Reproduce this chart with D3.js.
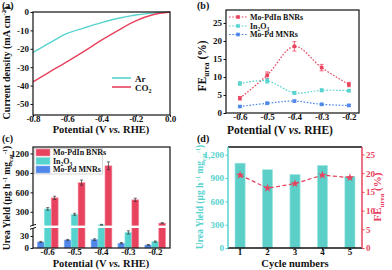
<!DOCTYPE html>
<html><head><meta charset="utf-8">
<script src="https://cdn.jsdelivr.net/npm/d3@7"></script>
<style>
body{margin:0;background:#fff}
svg{display:block}
text{font-family:"Liberation Serif","Times New Roman",serif;font-weight:bold}
</style>
</head><body>
<svg id="chart" width="392" height="270"></svg>
<script>
// ---------- data ----------
const aPotential = [-0.8,-0.7,-0.6,-0.5,-0.4,-0.3,-0.2,-0.1,0];
const aAr  = [-22,-16.6,-11.6,-8.6,-5.8,-3.4,-1.6,-0.6,0];
const aCO2 = [-38,-32.4,-27,-21.3,-15.3,-9.8,-4.8,-1.5,0];
const aXTicks = [-0.8,-0.6,-0.4,-0.2,0];
const aYTicks = [0,-10,-20,-30,-40,-50];

const bPotential = [-0.6,-0.5,-0.4,-0.3,-0.2];
const bPdIn = [4.1,10.5,18.5,12.6,7.9];
const bPdInErr = [0.5,0.9,1.3,0.9,0.6];
const bIn2O3 = [8.2,8.9,5.6,6.3,6.2];
const bIn2O3Err = [0.5,0.6,0.4,0.4,0.3];
const bPd = [1.8,2.7,3.3,2.4,2.1];
const bPdErr = [0.2,0.3,0.3,0.3,0.3];
const bYTicks = [0,5,10,15,20,25];

const cPotential = ['-0.6','-0.5','-0.4','-0.3','-0.2'];
const cPd = [15,20,21,12,7.5];
const cPdErr = [1.5,1.5,2,1.5,1.2];
const cIn2O3 = [345,262,100,39,16];
const cIn2O3Err = [20,15,6,4,1.5];
const cPdIn = [515,750,1010,485,125];
const cPdInErr = [25,40,60,25,8];
const cYTicks = [0,30,300,600,900,1200];

const dCycle = [1,2,3,4,5];
const dYield = [1092,1008,947,1063,921];
const dFE = [19.5,16.0,17.2,19.5,18.8];
const dYTicksL = [0,300,600,900,1200];
const dYTicksR = [0,5,10,15,20,25];

// ---------- style ----------
const RED = '#E8435E', CY = '#55D3CE', BL = '#4F88EA', INK = '#111';
const svg = d3.select('#chart');

function styleAxis(g, color, size){
  g.select('.domain').remove();
  g.attr('font-size', size || 9);
  g.selectAll('line').attr('stroke', color || INK).attr('stroke-width', 1);
  g.selectAll('text').attr('fill', color || INK);
}
function xAxisFix(g){ g.selectAll('text').attr('dy','0.5em'); }
function frame(x0,y0,x1,y1){
  svg.append('rect').attr('x',x0).attr('y',y0).attr('width',x1-x0).attr('height',y1-y0)
    .attr('fill','none').attr('stroke',INK).attr('stroke-width',1.2);
}
function label(txt,x,y){
  svg.append('text').attr('x',x).attr('y',y).attr('font-size',10).attr('fill',INK).text(txt);
}
function potentialTitle(cx, y, size){
  const t = svg.append('text').attr('x',cx).attr('y',y).attr('text-anchor','middle')
    .attr('font-size',size).attr('fill',INK);
  t.append('tspan').text('Potential (V ');
  t.append('tspan').attr('font-style','italic').text('vs.');
  t.append('tspan').text(' RHE)');
}
function feTitle(cx, cy, size, color){
  const t = svg.append('text').attr('transform',`translate(${cx},${cy}) rotate(-90)`)
    .attr('text-anchor','middle').attr('font-size',size).attr('fill',color);
  t.append('tspan').text('FE');
  t.append('tspan').attr('font-size',size*0.65).attr('dy',3).text('urea');
  t.append('tspan').attr('dy',-3).text(' (%)');
}
function yieldTitle(cx, cy, size, color){
  const t = svg.append('text').attr('transform',`translate(${cx},${cy}) rotate(-90)`)
    .attr('text-anchor','middle').attr('font-size',size).attr('fill',color);
  t.append('tspan').text('Urea Yield (μg h');
  t.append('tspan').attr('font-size',size*0.65).attr('dy',-3.5).text(' -1');
  t.append('tspan').attr('dy',3.5).text(' mg');
  t.append('tspan').attr('font-size',size*0.65).attr('dy',2.5).text('cat');
  t.append('tspan').attr('font-size',size*0.65).attr('dy',-6).text('-1');
  t.append('tspan').attr('dy',3.5).text(')');
}
const fmt1 = d => d === 0 ? '0.0' : d.toFixed(1);

// ================= panel (a) =================
{
  const L=33,R=170,T=12,B=115;
  const x = d3.scaleLinear().domain([-0.8,0]).range([L,R]);
  const y = d3.scaleLinear().domain([-56,0]).range([B,T]);
  const gx = svg.append('g').attr('transform',`translate(0,${B})`)
    .call(d3.axisBottom(x).tickValues(aXTicks).tickFormat(fmt1).tickSize(2).tickPadding(0));
  styleAxis(gx); xAxisFix(gx);
  const gy = svg.append('g').attr('transform',`translate(${L},0)`)
    .call(d3.axisLeft(y).tickValues(aYTicks).tickFormat(d=>String(d)).tickSize(2.5).tickPadding(1.5));
  styleAxis(gy);
  const line = d3.line().x((d,i)=>x(aPotential[i])).y(d=>y(d)).curve(d3.curveCatmullRom);
  svg.append('path').datum(aAr).attr('d',line).attr('fill','none').attr('stroke',CY).attr('stroke-width',1.4);
  svg.append('path').datum(aCO2).attr('d',line).attr('fill','none').attr('stroke',RED).attr('stroke-width',1.4);
  frame(L,T,R,B);
  // legend
  svg.append('line').attr('x1',112).attr('x2',131).attr('y1',78).attr('y2',78).attr('stroke',CY).attr('stroke-width',1.6);
  svg.append('text').attr('x',135).attr('y',81.5).attr('font-size',9).attr('fill',INK).text('Ar');
  svg.append('line').attr('x1',112).attr('x2',131).attr('y1',87).attr('y2',87).attr('stroke',RED).attr('stroke-width',1.6);
  const co = svg.append('text').attr('x',135).attr('y',90.5).attr('font-size',9).attr('fill',INK);
  co.append('tspan').text('CO');
  co.append('tspan').attr('font-size',6).attr('dy',2).text('2');
  potentialTitle(101,133,10.5);
  const yt = svg.append('text').attr('transform','translate(9.5,63) rotate(-90)').attr('text-anchor','middle')
    .attr('font-size',10).attr('fill',INK);
  yt.append('tspan').text('Current density (mA cm');
  yt.append('tspan').attr('font-size',6.5).attr('dy',-3.5).text('-2');
  yt.append('tspan').attr('dy',3.5).text(')');
  label('(a)',2,9);
}

// ================= panel (b) =================
{
  const L=226,R=359,T=10,B=113;
  const x = d3.scaleLinear().domain([-0.651,-0.163]).range([L,R]);
  const y = d3.scaleLinear().domain([0,28.6]).range([B,T]);
  const gx = svg.append('g').attr('transform',`translate(0,${B})`)
    .call(d3.axisBottom(x).tickValues(bPotential).tickFormat(fmt1).tickSize(2).tickPadding(0));
  styleAxis(gx); xAxisFix(gx);
  const gy = svg.append('g').attr('transform',`translate(${L},0)`)
    .call(d3.axisLeft(y).tickValues(bYTicks).tickFormat(d=>String(d)).tickSize(2.5).tickPadding(1.5));
  styleAxis(gy);
  const series = [
    {name:'Mo-PdIn BNRs', v:bPdIn, e:bPdInErr, c:RED},
    {name:'In2O3', v:bIn2O3, e:bIn2O3Err, c:CY},
    {name:'Mo-Pd MNRs', v:bPd, e:bPdErr, c:BL}
  ];
  const line = d3.line().x((d,i)=>x(bPotential[i])).y(d=>y(d)).curve(d3.curveCatmullRom);
  series.forEach(s=>{
    svg.append('path').datum(s.v).attr('d',line).attr('fill','none').attr('stroke',s.c)
      .attr('stroke-width',1.2).attr('stroke-dasharray','1.6,1.6');
    const g = svg.append('g');
    s.v.forEach((v,i)=>{
      const cx = x(bPotential[i]);
      g.append('line').attr('x1',cx).attr('x2',cx).attr('y1',y(v-s.e[i])).attr('y2',y(v+s.e[i])).attr('stroke',s.c).attr('stroke-width',0.8);
      [v-s.e[i],v+s.e[i]].forEach(w=>g.append('line').attr('x1',cx-2).attr('x2',cx+2).attr('y1',y(w)).attr('y2',y(w)).attr('stroke',s.c).attr('stroke-width',0.8));
      g.append('rect').attr('x',cx-1.8).attr('y',y(v)-1.8).attr('width',3.6).attr('height',3.6).attr('fill',s.c);
    });
  });
  frame(L,T,R,B);
  // legend
  const ly = [17,26,34.5];
  series.forEach((s,i)=>{
    svg.append('line').attr('x1',229).attr('x2',247).attr('y1',ly[i]).attr('y2',ly[i]).attr('stroke',s.c)
      .attr('stroke-width',1.2).attr('stroke-dasharray','1.6,1.6');
    svg.append('rect').attr('x',236.2).attr('y',ly[i]-1.8).attr('width',3.6).attr('height',3.6).attr('fill',s.c);
    const t = svg.append('text').attr('x',250).attr('y',ly[i]+2.8).attr('font-size',8).attr('fill',INK);
    if(s.name==='In2O3'){
      t.append('tspan').text('In');
      t.append('tspan').attr('font-size',5.5).attr('dy',2).text('2');
      t.append('tspan').attr('dy',-2).text('O');
      t.append('tspan').attr('font-size',5.5).attr('dy',2).text('3');
    } else t.text(s.name);
  });
  potentialTitle(280,133.5,11.5);
  feTitle(206,66,11.5,INK);
  label('(b)',197,9);
}

// ================= panel (c) =================
{
  const L=33,R=170,T=147,B=248;
  const x0 = d3.scaleBand().domain(cPotential).range([L,R]).paddingInner(0.225).paddingOuter(0.16);
  const keys = ['pd','in','pdin'];
  const x1 = d3.scaleBand().domain(keys).range([0,x0.bandwidth()]).padding(0);
  const y = d3.scaleLinear().domain([0,50,1300]).range([B,228,T]);
  const gx = svg.append('g').attr('transform',`translate(0,${B})`)
    .call(d3.axisBottom(x0).tickSize(2).tickPadding(0));
  styleAxis(gx); xAxisFix(gx);
  const gy = svg.append('g').attr('transform',`translate(${L},0)`)
    .call(d3.axisLeft(y).tickValues(cYTicks).tickFormat(d=>String(d)).tickSize(2.5).tickPadding(1.5));
  styleAxis(gy);
  const series = [
    {k:'pd', v:cPd, e:cPdErr, c:BL, s:'#8fb3f4', name:'Mo-Pd MNRs'},
    {k:'in', v:cIn2O3, e:cIn2O3Err, c:CY, s:'#9fe6e2', name:'In2O3'},
    {k:'pdin', v:cPdIn, e:cPdInErr, c:RED, s:'#f29aab', name:'Mo-PdIn BNRs'}
  ];
  series.forEach(s=>{
    s.v.forEach((v,i)=>{
      const bx = x0(cPotential[i]) + x1(s.k), bw = x1.bandwidth();
      svg.append('rect').attr('x',bx).attr('y',y(v)).attr('width',bw).attr('height',y(0)-y(v))
        .attr('fill',s.c).attr('stroke',s.s).attr('stroke-width',0.6);
    });
  });
  // axis break gap
  svg.append('rect').attr('x',L+0.6).attr('y',225.6).attr('width',R-L-1.2).attr('height',2.4).attr('fill','#fff');
  // error bars
  series.forEach(s=>{
    s.v.forEach((v,i)=>{
      const cx = x0(cPotential[i]) + x1(s.k) + x1.bandwidth()/2;
      const lo = y(v - s.e[i]), hi = y(v + s.e[i]);
      svg.append('line').attr('x1',cx).attr('x2',cx).attr('y1',lo).attr('y2',hi).attr('stroke','#333').attr('stroke-width',0.7);
      [lo,hi].forEach(yy=>svg.append('line').attr('x1',cx-1.5).attr('x2',cx+1.5).attr('y1',yy).attr('y2',yy).attr('stroke','#333').attr('stroke-width',0.7));
    });
  });
  frame(L,T,R,B);
  // break marks on axis
  svg.append('rect').attr('x',L-1).attr('y',225.4).attr('width',2).attr('height',2.8).attr('fill','#fff');
  svg.append('line').attr('x1',30).attr('x2',36).attr('y1',226.2).attr('y2',224.4).attr('stroke',INK).attr('stroke-width',1);
  svg.append('line').attr('x1',30).attr('x2',36).attr('y1',229.2).attr('y2',227.4).attr('stroke',INK).attr('stroke-width',1);
  // legend
  svg.append('rect').attr('x',34.5).attr('y',148.5).attr('width',68).attr('height',25.5)
    .attr('fill','#fff').attr('stroke','#bbb').attr('stroke-width',0.6);
  const ly = [152.5,161,169.5];
  [series[2],series[1],series[0]].forEach((s,i)=>{
    svg.append('rect').attr('x',36).attr('y',ly[i]-3.5).attr('width',14).attr('height',7)
      .attr('fill',s.c).attr('stroke',s.s).attr('stroke-width',0.6);
    const t = svg.append('text').attr('x',53).attr('y',ly[i]+2.8).attr('font-size',8).attr('fill',INK);
    if(s.name==='In2O3'){
      t.append('tspan').text('In');
      t.append('tspan').attr('font-size',5.5).attr('dy',2).text('2');
      t.append('tspan').attr('dy',-2).text('O');
      t.append('tspan').attr('font-size',5.5).attr('dy',2).text('3');
    } else t.text(s.name);
  });
  potentialTitle(101,266.5,10.5);
  yieldTitle(10,198,9.5,INK);
  label('(c)',2,142);
}

// ================= panel (d) =================
{
  const L=228,R=362,T=147,B=248;
  const x = d3.scaleBand().domain(dCycle).range([L,R]).paddingInner(0.63).paddingOuter(0.255);
  const yL = d3.scaleLinear().domain([0,1300]).range([B,T]);
  const yR = d3.scaleLinear().domain([0,27]).range([B,T]);
  svg.selectAll('.dbar').data(dYield).enter().append('rect')
    .attr('x',(d,i)=>x(dCycle[i])).attr('y',d=>yL(d)).attr('width',x.bandwidth()).attr('height',d=>B-yL(d))
    .attr('fill','#5CCFC9').attr('stroke','#a6e7e3').attr('stroke-width',0.7);
  const gx = svg.append('g').attr('transform',`translate(0,${B})`)
    .call(d3.axisBottom(x).tickSize(2).tickPadding(0));
  styleAxis(gx); xAxisFix(gx);
  const gyl = svg.append('g').attr('transform',`translate(${L},0)`)
    .call(d3.axisLeft(yL).tickValues(dYTicksL).tickSize(2.5).tickPadding(1.5));
  styleAxis(gyl, CY);
  const gyr = svg.append('g').attr('transform',`translate(${R},0)`)
    .call(d3.axisRight(yR).tickValues(dYTicksR).tickSize(2.5).tickPadding(1.5));
  styleAxis(gyr, RED);
  const line = d3.line().x((d,i)=>x(dCycle[i])+x.bandwidth()/2).y(d=>yR(d));
  svg.append('path').datum(dFE).attr('d',line).attr('fill','none').attr('stroke',RED)
    .attr('stroke-width',1.2).attr('stroke-dasharray','4,2.5');
  const star = d3.symbol().type(d3.symbolStar).size(22);
  dFE.forEach((v,i)=>{
    svg.append('path').attr('d',star()).attr('transform',`translate(${x(dCycle[i])+x.bandwidth()/2},${yR(v)})`)
      .attr('fill',RED);
  });
  // frame
  svg.append('line').attr('x1',L).attr('x2',R).attr('y1',T).attr('y2',T).attr('stroke',INK).attr('stroke-width',1.5);
  svg.append('line').attr('x1',L).attr('x2',R).attr('y1',B).attr('y2',B).attr('stroke',INK).attr('stroke-width',1.5);
  svg.append('line').attr('x1',L).attr('x2',L).attr('y1',T).attr('y2',B).attr('stroke',CY).attr('stroke-width',1.5);
  svg.append('line').attr('x1',R).attr('x2',R).attr('y1',T).attr('y2',B).attr('stroke',RED).attr('stroke-width',1.5);
  svg.append('text').attr('x',295).attr('y',266.5).attr('text-anchor','middle')
    .attr('font-size',10.5).attr('fill',INK).text('Cycle numbers');
  yieldTitle(203,197,9.5,CY);
  feTitle(381,197,11,RED);
  label('(d)',197,142);
}
</script>
</body></html>
